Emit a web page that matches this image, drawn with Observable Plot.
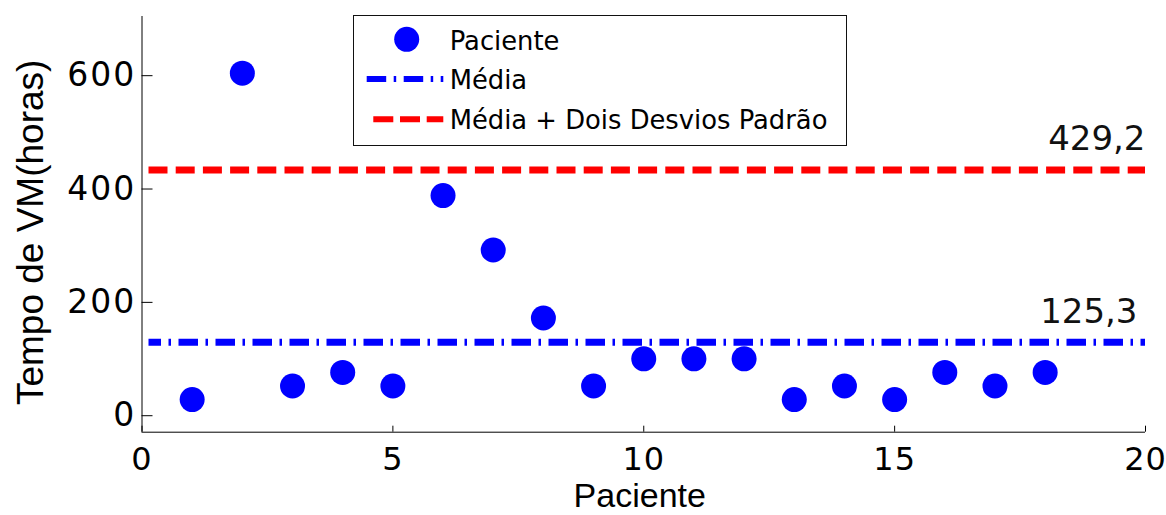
<!DOCTYPE html>
<html>
<head>
<meta charset="utf-8">
<script src="https://cdn.jsdelivr.net/npm/d3@7"></script>
<script src="https://cdn.jsdelivr.net/npm/@observablehq/plot@0.6"></script>
<style>
  html, body { margin: 0; padding: 0; background: #fff; }
  #chart { position: relative; width: 1166px; height: 515px; }
  #chart svg { display: block; }
  [aria-label="y-axis tick label"] text { letter-spacing: 2px; }
  [aria-label="x-axis tick label"] text { letter-spacing: 1px; }
  #legend {
    position: absolute; left: 353px; top: 15px;
    width: 492px; height: 129px;
    border: 1px solid #111; background: #fff;
  }
  #legend svg { display: block; }
</style>
</head>
<body>
<div id="chart"></div>
<script>
// Ventilation time (hours) per patient
const patients = [1, 2, 3, 4, 5, 6, 7, 8, 9, 10, 11, 12, 13, 14, 15, 16, 17, 18];
const hours = [24, 600, 48, 72, 48, 384, 288, 168, 48, 96, 96, 96, 24, 48, 24, 72, 48, 72];

// Reference lines: mean and mean + two standard deviations
const meanValue = [125.3];
const upperValue = [429.2];

// Axes
const xTicks = [0, 5, 10, 15, 20];
const yTicks = [0, 200, 400, 600];
const xDomain = [0, 20];
const yDomain = [-33.5, 700];
const xLabel = "Paciente";
const yLabel = "Tempo de VM(horas)";
const seriesNames = ["Paciente", "Média", "Média + Dois Desvios Padrão"];

const BLUE = "#0000ff";
const RED = "#ff0000";
const fmt = v => v.toFixed(1).replace(".", ",");

const data = patients.map((p, i) => ({patient: p, hours: hours[i]}));

const plot = Plot.plot({
  width: 1166,
  height: 515,
  marginLeft: 141.5,
  marginRight: 21,
  marginTop: 16,
  marginBottom: 83.3,
  style: {fontFamily: "DejaVu Sans", fontSize: "33px", color: "#000", background: "#fff"},
  x: {domain: xDomain},
  y: {domain: yDomain},
  marks: [
    // left and bottom axis lines (no box)
    Plot.ruleX([xDomain[0]], {stroke: "#000", strokeWidth: 1}),
    Plot.ruleY([yDomain[0]], {stroke: "#000", strokeWidth: 1}),
    Plot.axisX({ticks: xTicks, tickSize: -6, tickPadding: 20.8, fontSize: 32, label: null}),
    Plot.axisY({ticks: yTicks, tickSize: -11, tickPadding: 16.8, dy: 2.5, label: null}),
    // mean + 2 SD
    Plot.ruleY(upperValue, {y: d => d, stroke: RED, strokeWidth: 7, strokeDasharray: "19,8.2", insetLeft: 7}),
    // mean
    Plot.ruleY(meanValue, {y: d => d, stroke: BLUE, strokeWidth: 7, strokeDasharray: "19.5,7.5,2.5,7.5", strokeDashoffset: 7, insetLeft: 7}),
    // patients
    Plot.dot(data, {x: "patient", y: "hours", r: 12.5, fill: BLUE}),
    // value labels on the reference lines
    Plot.text(upperValue, {x: xDomain[1], y: d => d, text: fmt, textAnchor: "end", dx: 0, dy: -31, fontSize: 34, fill: "#111"}),
    Plot.text(meanValue, {x: xDomain[1], y: d => d, text: fmt, textAnchor: "end", dx: -8, dy: -30, fontSize: 34, fill: "#111"}),
    // axis titles
    Plot.text([xLabel], {text: d => d, frameAnchor: "bottom", textAnchor: "middle", lineAnchor: "middle", dx: -4, dy: 64.2, fontFamily: "Liberation Sans", fontSize: 34}),
    Plot.text([yLabel], {text: d => d, frameAnchor: "left", textAnchor: "middle", lineAnchor: "middle", rotate: -90, dx: -111.3, dy: 8, fontFamily: "Liberation Sans", fontSize: 37})
  ]
});

const chart = document.getElementById("chart");
chart.appendChild(plot);

// Legend box drawn over the plot area
const legend = document.createElement("div");
legend.id = "legend";
const ns = "http://www.w3.org/2000/svg";
const lsvg = document.createElementNS(ns, "svg");
lsvg.setAttribute("width", 492);
lsvg.setAttribute("height", 129);
function el(name, attrs) {
  const e = document.createElementNS(ns, name);
  for (const k in attrs) e.setAttribute(k, attrs[k]);
  lsvg.appendChild(e);
  return e;
}
el("circle", {cx: 52.7, cy: 23.3, r: 12.5, fill: BLUE});
el("line", {x1: 12.7, x2: 89.3, y1: 63, y2: 63, stroke: BLUE, "stroke-width": 6, "stroke-dasharray": "19.5,7.5,2.5,7.5"});
el("line", {x1: 19.3, x2: 89.3, y1: 103.3, y2: 103.3, stroke: RED, "stroke-width": 6, "stroke-dasharray": "20,6.7"});
const baselines = [33.5, 73, 112.5];
seriesNames.forEach((name, i) => {
  const t = el("text", {x: 95.7, y: baselines[i], "font-family": "DejaVu Sans", "font-size": 25.8, fill: "#000"});
  t.textContent = name;
});
legend.appendChild(lsvg);
chart.appendChild(legend);
</script>
</body>
</html>
